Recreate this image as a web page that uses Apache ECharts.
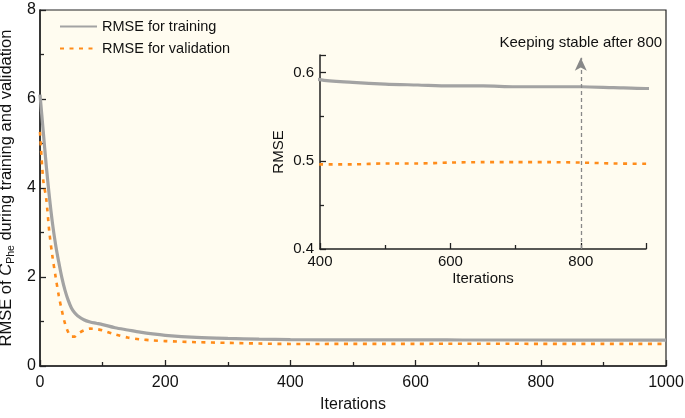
<!DOCTYPE html>
<html>
<head>
<meta charset="utf-8">
<script src="https://cdn.jsdelivr.net/npm/echarts@6/dist/echarts.min.js"></script>
<style>
  html, body { margin: 0; padding: 0; background: #fff; }
  #main { width: 685px; height: 418px; }
</style>
</head>
<body>
<div id="main"></div>
<script>
var iterations = [0, 5, 10, 15, 20, 25, 30, 35, 40, 45, 50, 55, 60, 70, 80, 90, 100, 120, 140, 160, 180, 200,
  250, 300, 350, 400, 450, 500, 550, 600, 650, 700, 750, 800, 850, 900, 950, 1000];
var rmseTraining = [6.1, 5.3, 4.5, 3.8, 3.2, 2.72, 2.33, 1.98, 1.7, 1.48, 1.31, 1.2, 1.13, 1.04, 0.99, 0.96, 0.93, 0.86, 0.81, 0.76, 0.72, 0.69,
  0.645, 0.62, 0.603, 0.592, 0.589, 0.587, 0.586, 0.585, 0.585, 0.584, 0.584, 0.584, 0.583, 0.582, 0.582, 0.582];
var rmseValidation = [5.26, 4.2, 3.75, 3.0, 2.45, 2.0, 1.58, 1.24, 0.95, 0.76, 0.66, 0.66, 0.72, 0.8, 0.84, 0.83, 0.8, 0.71, 0.64, 0.6, 0.575, 0.56,
  0.535, 0.52, 0.505, 0.496, 0.496, 0.497, 0.497, 0.498, 0.4985, 0.4985, 0.4985, 0.498, 0.497, 0.4966, 0.4965, 0.496];
var mainXTicks = [0, 200, 400, 600, 800, 1000];
var mainYTicks = [0, 2, 4, 6, 8];
var insetXTicks = [400, 600, 800];
var insetYTicks = [0.4, 0.5, 0.6];
var stableAt = 800;

function pairs(ys) {
  return iterations.map(function (x, i) { return [x, ys[i]]; });
}

var font = 'Liberation Sans, Arial, sans-serif';
var axisColor = '#222';
var grayLine = { color: '#a3a3a3', width: 3.2 };
var orangeLine = { color: '#ff8c1a', width: 2.6, type: [4, 5.5] };

var myChart = echarts.init(document.getElementById('main'));
var option = {
  animation: false,
  textStyle: { fontFamily: font, color: '#111' },
  legend: {
    orient: 'vertical',
    left: 54,
    top: 14,
    itemWidth: 37,
    itemHeight: 14,
    itemGap: 7,
    itemStyle: { opacity: 0 },
    textStyle: { fontSize: 14.5, color: '#111', fontFamily: font },
    data: ['RMSE for training', 'RMSE for validation']
  },
  grid: [
    {
      left: 40, right: 19, top: 10, bottom: 52, outerBoundsMode: 'none', containLabel: false,
      show: true, backgroundColor: '#fffcf0', borderColor: axisColor, borderWidth: 1.2
    },
    { left: 320, top: 55, width: 326, bottom: 169, outerBoundsMode: 'none', containLabel: false, show: false }
  ],
  xAxis: [
    {
      type: 'value', gridIndex: 0, min: mainXTicks[0], max: mainXTicks[mainXTicks.length - 1], interval: 200,
      name: 'Iterations', nameLocation: 'middle', nameGap: 31,
      nameTextStyle: { fontSize: 16, color: '#111' },
      axisLine: { lineStyle: { color: axisColor, width: 1.5 } },
      axisTick: { inside: true, length: 6, lineStyle: { color: axisColor, width: 1.3 } },
      minorTick: { show: true, splitNumber: 2, length: 4, lineStyle: { color: axisColor, width: 1.3 } },
      axisLabel: { fontSize: 16, color: '#111', margin: 9, formatter: function (v) { return String(v); } },
      splitLine: { show: false }
    },
    {
      type: 'value', gridIndex: 1, min: insetXTicks[0], max: 900, interval: 200,
      name: 'Iterations', nameLocation: 'middle', nameGap: 22,
      nameTextStyle: { fontSize: 15, color: '#111' },
      axisLine: { lineStyle: { color: axisColor, width: 1.5 } },
      axisTick: { inside: true, length: 6, lineStyle: { color: axisColor, width: 1.3 } },
      minorTick: { show: true, splitNumber: 2, length: 4, lineStyle: { color: axisColor, width: 1.3 } },
      axisLabel: { fontSize: 15, color: '#111', margin: 5, showMaxLabel: false },
      splitLine: { show: false }
    }
  ],
  yAxis: [
    {
      type: 'value', gridIndex: 0, min: mainYTicks[0], max: mainYTicks[mainYTicks.length - 1], interval: 2,
      name: '{a|RMSE of }{i|C}{s|Phe}{a| during training and validation}',
      nameLocation: 'middle', nameGap: 9,
      nameTextStyle: {
        rich: {
          a: { fontSize: 16.5, color: '#111', fontFamily: font, lineHeight: 20 },
          i: { fontSize: 16.5, color: '#111', fontFamily: font, fontStyle: 'italic', lineHeight: 20 },
          s: { fontSize: 10.5, color: '#111', fontFamily: font, lineHeight: 14, verticalAlign: 'bottom' }
        }
      },
      axisLine: { lineStyle: { color: axisColor, width: 1.5 } },
      axisTick: { inside: true, length: 6, lineStyle: { color: axisColor, width: 1.3 } },
      minorTick: { show: true, splitNumber: 2, length: 4, lineStyle: { color: axisColor, width: 1.3 } },
      axisLabel: { fontSize: 16, color: '#111', margin: 4 },
      splitLine: { show: false }
    },
    {
      type: 'value', gridIndex: 1, min: insetYTicks[0], max: 0.62, interval: 0.1,
      name: 'RMSE', nameLocation: 'middle', nameGap: 34,
      nameTextStyle: { fontSize: 15, color: '#111' },
      axisLine: { lineStyle: { color: axisColor, width: 1.5 } },
      axisTick: { inside: true, length: 6, lineStyle: { color: axisColor, width: 1.3 } },
      minorTick: { show: true, splitNumber: 2, length: 4, lineStyle: { color: axisColor, width: 1.3 } },
      axisLabel: { fontSize: 15, color: '#111', margin: 6, showMaxLabel: false,
        formatter: function (v) { return v.toFixed(1); } },
      splitLine: { show: false }
    }
  ],
  series: [
    {
      name: 'RMSE for training', type: 'line', xAxisIndex: 0, yAxisIndex: 0,
      data: pairs(rmseTraining), symbol: 'none', smooth: 0.3, lineStyle: grayLine, itemStyle: { color: grayLine.color }, z: 3
    },
    {
      name: 'RMSE for validation', type: 'line', xAxisIndex: 0, yAxisIndex: 0,
      data: pairs(rmseValidation), symbol: 'none', smooth: 0.3, lineStyle: orangeLine, itemStyle: { color: orangeLine.color }, z: 2
    },
    {
      name: 'RMSE for training', type: 'line', xAxisIndex: 1, yAxisIndex: 1,
      data: pairs(rmseTraining), symbol: 'none', smooth: 0.3, clip: true, lineStyle: grayLine, z: 3,
      markLine: {
        silent: true,
        symbol: ['none', 'arrow'],
        symbolSize: [9, 13],
        lineStyle: { color: '#888', type: [4, 3], width: 1.3 },
        label: {
          show: true, position: 'end', distance: 7,
          formatter: 'Keeping stable after ' + stableAt,
          fontSize: 15, color: '#111', fontFamily: font
        },
        data: [[{ coord: [stableAt, 0.4] }, { coord: [stableAt, 0.617] }]]
      }
    },
    {
      name: 'RMSE for validation', type: 'line', xAxisIndex: 1, yAxisIndex: 1,
      data: pairs(rmseValidation), symbol: 'none', smooth: 0.3, clip: true, lineStyle: orangeLine, z: 2
    }
  ]
};
myChart.setOption(option);
window.addEventListener('resize', function () {
  myChart.resize();
});
</script>
</body>
</html>
